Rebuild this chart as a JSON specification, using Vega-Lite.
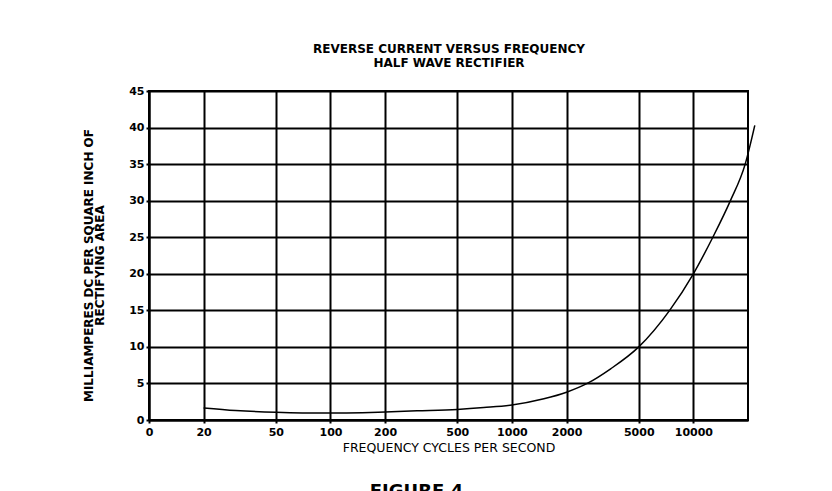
{
  "$schema": "https://vega.github.io/schema/vega-lite/v6.json",
  "width": 599,
  "height": 329,
  "autosize": {"type": "none"},
  "padding": {"left": 149, "top": 91, "right": 84, "bottom": 71},
  "background": "white",
  "title": {
    "text": "FIGURE 4",
    "orient": "bottom",
    "anchor": "middle",
    "font": "DejaVu Sans",
    "fontSize": 18,
    "fontWeight": "bold",
    "color": "black",
    "offset": 29,
    "dx": -32
  },
  "config": {
    "view": {"stroke": "black", "strokeWidth": 2},
    "axis": {
      "labelFont": "DejaVu Sans",
      "titleFont": "DejaVu Sans",
      "labelColor": "black",
      "titleColor": "black"
    }
  },
  "data": {
    "values": [
      {"freq": 20, "ma": 1.65},
      {"freq": 30, "ma": 1.3},
      {"freq": 50, "ma": 1.05},
      {"freq": 70, "ma": 0.97},
      {"freq": 100, "ma": 0.95},
      {"freq": 150, "ma": 1.0},
      {"freq": 200, "ma": 1.1},
      {"freq": 300, "ma": 1.25},
      {"freq": 500, "ma": 1.45},
      {"freq": 700, "ma": 1.7},
      {"freq": 1000, "ma": 2.05},
      {"freq": 1500, "ma": 2.9},
      {"freq": 2000, "ma": 3.8},
      {"freq": 2600, "ma": 5.0},
      {"freq": 3500, "ma": 7.0},
      {"freq": 5000, "ma": 10.0},
      {"freq": 7400, "ma": 15.0},
      {"freq": 10000, "ma": 20.0},
      {"freq": 12800, "ma": 25.0},
      {"freq": 16000, "ma": 30.0},
      {"freq": 19300, "ma": 35.0},
      {"freq": 21800, "ma": 40.3}
    ]
  },
  "layer": [
    {
      "mark": {"type": "line", "interpolate": "monotone", "clip": false, "color": "black", "strokeWidth": 1.5},
      "encoding": {
        "x": {
          "field": "freq",
          "type": "quantitative",
          "scale": {"type": "log", "domain": [10, 20000], "nice": false},
          "axis": {
            "orient": "bottom",
            "values": [10, 20, 50, 100, 200, 500, 1000, 2000, 5000, 10000],
            "format": "d",
            "labelExpr": "datum.value == 10 ? '0' : datum.label",
            "labelFontSize": 11,
            "labelFontWeight": "bold",
            "labelPadding": 3,
            "labelFlush": false,
            "labelOverlap": false,
            "grid": true,
            "gridColor": "black",
            "gridWidth": 2,
            "gridOpacity": 1,
            "tickColor": "black",
            "tickSize": 3,
            "tickWidth": 2,
            "domain": true,
            "domainColor": "black",
            "domainWidth": 2,
            "title": "FREQUENCY CYCLES PER SECOND",
            "titleFontSize": 12.5,
            "titleFontWeight": "normal",
            "titlePadding": 4
          }
        },
        "y": {
          "field": "ma",
          "type": "quantitative",
          "scale": {"domain": [0, 45], "nice": false},
          "axis": {
            "values": [0, 5, 10, 15, 20, 25, 30, 35, 40, 45],
            "labelFontSize": 11,
            "labelFontWeight": "bold",
            "labelPadding": 2,
            "labelOverlap": false,
            "labelFlush": false,
            "grid": true,
            "gridColor": "black",
            "gridWidth": 2,
            "gridOpacity": 1,
            "tickColor": "black",
            "tickSize": 3,
            "tickWidth": 2,
            "domainColor": "black",
            "domainWidth": 2,
            "title": ["MILLIAMPERES DC PER SQUARE INCH OF", "RECTIFYING AREA"],
            "titleFontSize": 12,
            "titleFontWeight": "bold",
            "titleLineHeight": 11,
            "titlePadding": 22,
            "titleY": 174
          }
        }
      }
    },
    {
      "mark": {"type": "line", "opacity": 0},
      "encoding": {
        "x": {
          "field": "freq",
          "type": "quantitative",
          "axis": {
            "orient": "top",
            "labels": false,
            "ticks": false,
            "domain": false,
            "grid": false,
            "title": ["REVERSE CURRENT VERSUS FREQUENCY", "HALF WAVE RECTIFIER"],
            "titleFontSize": 12,
            "titleFontWeight": "bold",
            "titleLineHeight": 14,
            "titlePadding": 22
          }
        },
        "y": {"field": "ma", "type": "quantitative", "axis": null}
      }
    }
  ],
  "resolve": {"axis": {"x": "independent", "y": "independent"}}
}
